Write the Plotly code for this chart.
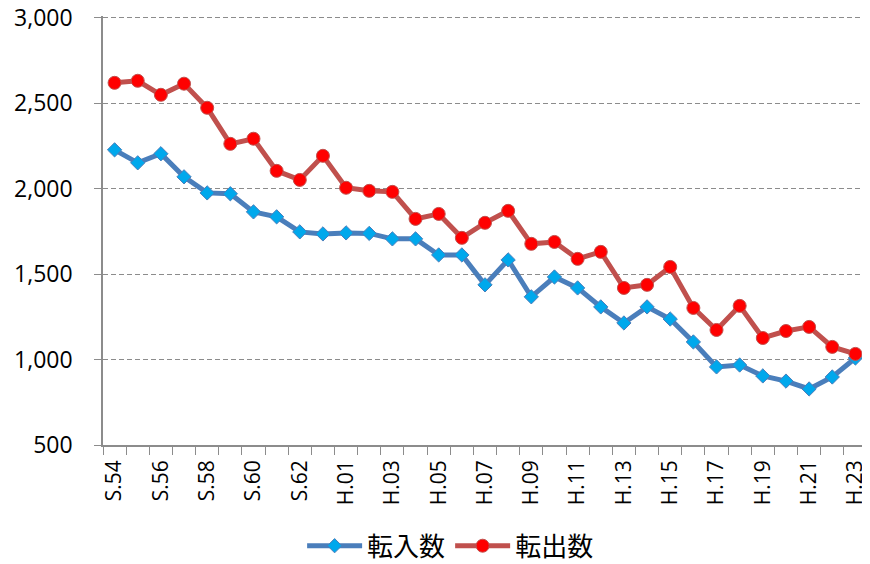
import plotly.graph_objects as go

years = (["S.%d" % y for y in range(54, 64)] +
         ["H.%02d" % y for y in range(1, 24)])

tennyu = [2227, 2151, 2204, 2069, 1975, 1970, 1864, 1835, 1747, 1735,
          1741, 1738, 1706, 1706, 1612, 1612, 1437, 1583, 1367, 1483,
          1419, 1308, 1214, 1308, 1237, 1103, 957, 968, 904, 874,
          828, 898, 1009]

tenshutsu = [2619, 2631, 2549, 2614, 2473, 2262, 2292, 2104, 2051, 2192,
             2005, 1987, 1981, 1823, 1852, 1712, 1800, 1870, 1677, 1688,
             1589, 1630, 1419, 1437, 1542, 1302, 1173, 1314, 1126, 1167,
             1191, 1074, 1033]

tick_text = [y if i % 2 == 0 else "" for i, y in enumerate(years)]

# page body has an 8px margin; figure is made larger than the window so the
# legend never pushes the plot margins
layout = go.Layout(
    paper_bgcolor='white',
    plot_bgcolor='white',
    font=dict(family='Open Sans, Noto Sans CJK JP', color='black', size=22),
    margin=dict(l=95, r=11, t=8, b=163),
    width=870, height=600,
)
fig = go.Figure(layout=layout)

fig.add_trace(go.Scatter(
    x=years, y=tennyu, name='転入数', mode='lines+markers',
    line=dict(color='#4a7ebb', width=5),
    marker=dict(symbol='diamond', size=11, color='#00a8ec',
                line=dict(color='#4a7ebb', width=1)),
))
fig.add_trace(go.Scatter(
    x=years, y=tenshutsu, name='転出数', mode='lines+markers',
    line=dict(color='#c0504d', width=5),
    marker=dict(symbol='circle', size=13, color='#ff0000',
                line=dict(color='#c0504d', width=1)),
))

fig.update_xaxes(
    type='category', tickmode='array', tickvals=years, ticktext=tick_text,
    tickangle=-90, tickson='boundaries', ticks='outside', ticklen=8,
    tickcolor='#8c8c8c', showline=True, linecolor='#8c8c8c', linewidth=1.5,
    showgrid=False, tickfont=dict(family='Open Sans', size=21),
    ticklabelstandoff=5, automargin=False, ticklabeloverflow='allow',
    range=[-0.5, 32.5],
)
fig.update_yaxes(
    range=[500, 3010], tickvals=[500, 1000, 1500, 2000, 2500, 3000],
    tickformat=',', ticks='outside', ticklen=7,
    tickcolor='#8c8c8c', showline=True, linecolor='#8c8c8c', linewidth=1.5,
    showgrid=True, gridcolor='#8c8c8c', griddash='5px,3px', gridwidth=1.2,
    tickfont=dict(family='Open Sans', size=23), zeroline=False,
    ticklabelstandoff=17, automargin=False, ticklabeloverflow='allow',
)
fig.update_layout(
    showlegend=True,
    legend=dict(orientation='h', x=0.455, xanchor='center', y=-0.235, yanchor='middle',
                itemwidth=55, font=dict(family='Noto Sans CJK JP', size=26)),
)

fig.write_html("out.html")
